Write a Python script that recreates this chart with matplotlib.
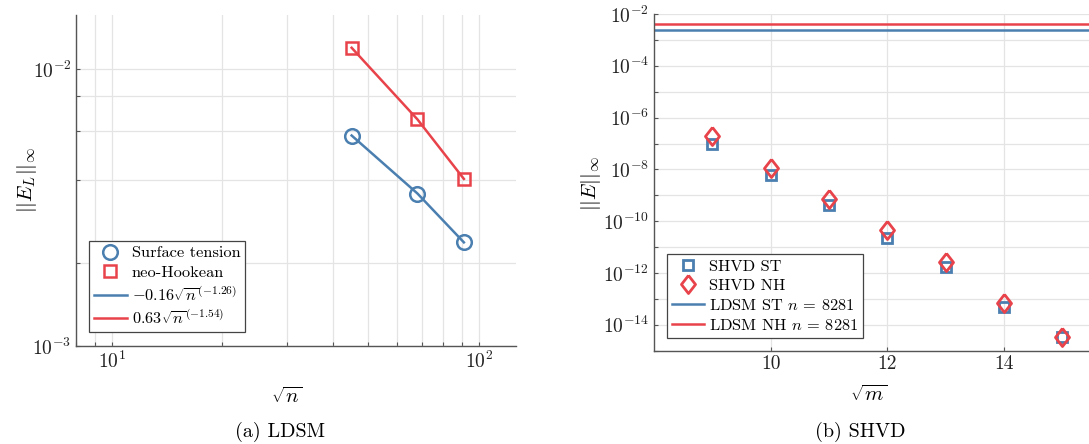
import numpy as np
import matplotlib
matplotlib.use('Agg')
import matplotlib.pyplot as plt
from matplotlib.ticker import LogLocator, FuncFormatter, NullFormatter

plt.rcParams['font.family'] = 'serif'
plt.rcParams['font.serif'] = ['cmr10', 'DejaVu Serif']
plt.rcParams['mathtext.fontset'] = 'cm'
plt.rcParams['axes.formatter.use_mathtext'] = True
plt.rcParams['axes.unicode_minus'] = False

blue = '#4a7fb0'
red = '#e8434a'
grid_c = '#e4e4e4'
axis_c = '#555555'

# (a) LDSM convergence, x = sqrt(n)
sqrt_n = [45, 68, 91]
err_st = [0.00577, 0.00356, 0.00237]
err_nh = [0.01198, 0.00660, 0.00402]
fit_labels = [r'$-0.16\sqrt{n}^{(-1.26)}$', r'$0.63\sqrt{n}^{(-1.54)}$']

# (b) SHVD, x = sqrt(m)
sqrt_m = [9, 10, 11, 12, 13, 14, 15]
shvd_st = [9.5e-8, 5.9e-9, 4.2e-10, 2.2e-11, 1.66e-12, 5.0e-14, 3.5e-15]
shvd_nh = [1.95e-7, 1.10e-8, 7.0e-10, 4.5e-11, 2.6e-12, 7.1e-14, 3.5e-15]
ldsm_st = err_st[-1]
ldsm_nh = err_nh[-1]

fig = plt.figure(figsize=(10.89, 4.44), dpi=100)
ax1 = fig.add_axes([0.0701, 0.2207, 0.4035, 0.7466])
ax2 = fig.add_axes([0.6006, 0.2101, 0.4284, 0.7583])


def style(ax):
    for s in ['top', 'right']:
        ax.spines[s].set_visible(False)
    for s in ['left', 'bottom']:
        ax.spines[s].set_color(axis_c)
        ax.spines[s].set_linewidth(1.0)
    ax.tick_params(which='both', direction='in', length=3, width=0.8,
                   color=axis_c, labelsize=14, labelcolor='#222222')
    ax.set_axisbelow(True)


# left panel
style(ax1)
ax1.set_xscale('log')
ax1.set_yscale('log')
ax1.set_xlim(8, 126)
ax1.set_ylim(1e-3, 0.0158)
ax1.yaxis.set_minor_locator(LogLocator(base=10, subs=(2, 4, 6, 8)))
ax1.yaxis.set_minor_formatter(NullFormatter())
ax1.xaxis.set_minor_formatter(NullFormatter())
ax1.grid(True, which='both', color=grid_c, linewidth=0.9)

ax1.plot(sqrt_n, err_st, 'o', ms=10.5, mfc='none', mec=blue, mew=1.8, label='Surface tension')
ax1.plot(sqrt_n, err_nh, 's', ms=8.5, mfc='none', mec=red, mew=1.8, label='neo-Hookean')
ax1.plot(sqrt_n, err_st, '-', color=blue, lw=1.8, label=fit_labels[0])
ax1.plot(sqrt_n, err_nh, '-', color=red, lw=1.8, label=fit_labels[1])
leg1 = ax1.legend(loc='lower left', bbox_to_anchor=(0.029, 0.042), borderaxespad=0,
                  fontsize=11.8, fancybox=False, framealpha=1, edgecolor='#444444',
                  handlelength=2.0, handletextpad=0.3, borderpad=0.3, labelspacing=0.3)
leg1.get_frame().set_linewidth(0.9)
ax1.set_xlabel(r'$\sqrt{n}$', fontsize=15)
ax1.set_ylabel(r'$||E_L||_\infty$', fontsize=15)
ax1.xaxis.set_label_coords(0.48, -0.122)
ax1.yaxis.set_label_coords(-0.085, 0.5)

# right panel
style(ax2)
ax2.set_yscale('log')
ax2.set_xlim(8, 16)
ax2.set_ylim(1e-15, 1e-2)
ax2.yaxis.set_major_locator(LogLocator(base=10, numticks=30))
ax2.yaxis.set_minor_locator(LogLocator(base=10, subs=(), numticks=30))


def even_decades(v, pos):
    e = int(round(np.log10(v)))
    return r'$10^{%d}$' % e if e % 2 == 0 else ''


ax2.yaxis.set_major_formatter(FuncFormatter(even_decades))
ax2.set_xticks([10, 12, 14])
ax2.xaxis.set_major_formatter(FuncFormatter(lambda v, p: '%d' % v))
ax2.grid(True, which='major', color=grid_c, linewidth=0.9)

diamond = [(0, 1), (0.78, 0), (0, -1), (-0.78, 0), (0, 1)]
ax2.plot(sqrt_m, shvd_st, 's', ms=7.5, mfc='none', mec=blue, mew=2.0, label='SHVD ST')
ax2.plot(sqrt_m, shvd_nh, marker=diamond, ls='none', ms=13, mfc='none', mec=red, mew=2.0, label='SHVD NH')
ax2.axhline(ldsm_st, color=blue, lw=1.8, label=r'LDSM ST $n$ = 8281')
ax2.axhline(ldsm_nh, color=red, lw=1.8, label=r'LDSM NH $n$ = 8281')
leg2 = ax2.legend(loc='lower left', bbox_to_anchor=(0.027, 0.0386), borderaxespad=0,
                  fontsize=11.8, fancybox=False, framealpha=1, edgecolor='#444444',
                  handlelength=2.0, handletextpad=0.3, borderpad=0.3, labelspacing=0.3)
leg2.get_frame().set_linewidth(0.9)
ax2.set_xlabel(r'$\sqrt{m}$', fontsize=15)
ax2.set_ylabel(r'$||E||_\infty$', fontsize=15)
ax2.xaxis.set_label_coords(0.461, -0.1)
ax2.yaxis.set_label_coords(-0.11, 0.498)

fig.text(280 / 1089, 1 - 432 / 444, '(a) LDSM', fontsize=14.5, ha='center', va='center')
fig.text(860 / 1089, 1 - 432 / 444, '(b) SHVD', fontsize=14.5, ha='center', va='center')

fig.savefig('out.png', dpi=100)
